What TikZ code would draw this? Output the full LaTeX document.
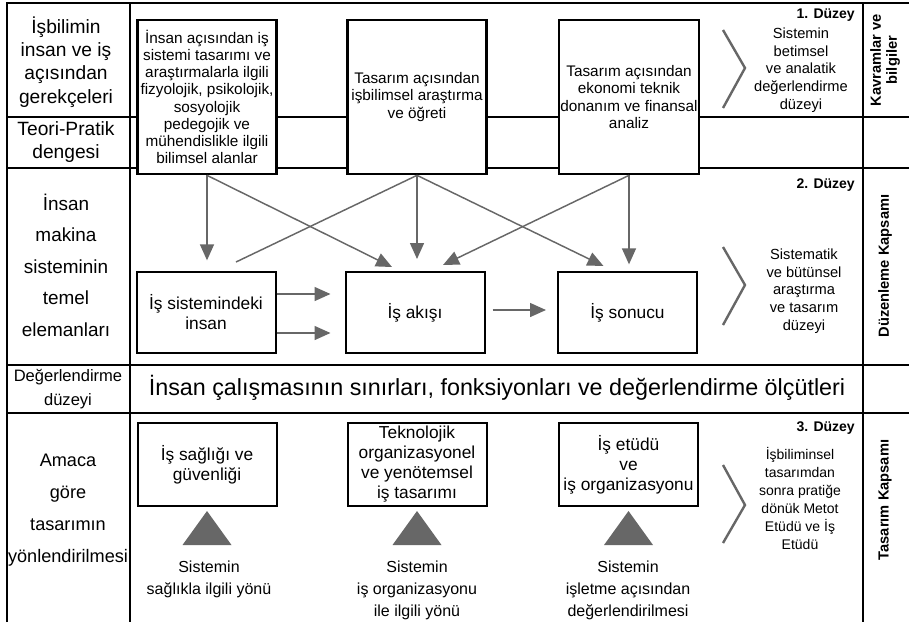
\documentclass[tikz,border=0pt]{standalone}
\usepackage{fontspec}
\setmainfont{Liberation Sans}
\usetikzlibrary{arrows.meta,calc}
\definecolor{flowgray}{HTML}{676767}
\tikzstyle{rule}=[line width=1.2pt]
\tikzstyle{frame}=[line width=2.2pt]
\tikzstyle{topbox}=[draw,line width=2pt,fill=white,minimum width=104.25pt,minimum height=115.5pt,align=center,inner sep=1pt,font=\fontsize{11.5}{12.9}\selectfont]
\tikzstyle{midbox}=[draw,line width=1.5pt,fill=white,minimum width=104.25pt,minimum height=60.75pt,align=center,inner sep=1pt,font=\fontsize{13}{15}\selectfont]
\tikzstyle{lowbox}=[midbox,minimum height=62.25pt]
\tikzstyle{flow}=[draw=flowgray,line width=1.1pt,-{Triangle[length=12pt,width=10.5pt]}]
\tikzstyle{link}=[draw=flowgray,line width=1.1pt]
\tikzstyle{chev}=[draw=flowgray,line width=1.8pt]
\tikzstyle{tri}=[fill=flowgray]
\tikzstyle{leftcol}=[align=center,inner sep=0pt,font=\fontsize{14.4}{17.5}\selectfont]
\tikzstyle{note}=[align=center,inner sep=0pt,font=\fontsize{11}{13.3}\selectfont]
\tikzstyle{lvl}=[anchor=east,inner sep=0pt,font=\fontsize{10.5}{12}\selectfont\bfseries]
\tikzstyle{side}=[rotate=90,align=center,inner sep=0pt,font=\fontsize{11}{12}\selectfont\bfseries]
\tikzstyle{aspect}=[align=center,inner sep=0pt,font=\fontsize{12}{16.5}\selectfont]

\begin{document}
\begin{tikzpicture}[x=0.75pt,y=-0.75pt]
  \useasboundingbox (0,0) rectangle (909,622);
  \draw[rule] (7,117) -- (909,117);
  \draw[rule] (7,168) -- (909,168);
  \draw[rule] (7,365) -- (909,365);
  \draw[rule] (7,413) -- (909,413);
  \draw[rule] (130,3) -- (130,622);
  \draw[rule] (863,3) -- (863,622);
  \draw[frame] (7,622) -- (7,3) -- (909,3);

  \node[leftcol] (why) at (66,62) {İşbilimin\\insan ve iş\\açısından\\gerekçeleri};
  \node[leftcol] (balance) at (66,142) {Teori-Pratik\\dengesi};
  \node[leftcol,font=\fontsize{14.2}{23.6}\selectfont] (elements) at (66,265) {İnsan\\makina\\sisteminin\\temel\\elemanları};
  \node[leftcol,font=\fontsize{12.4}{18}\selectfont] (evallvl) at (68,389) {Değerlendirme\\düzeyi};
  \node[leftcol,font=\fontsize{13.6}{24}\selectfont] (aim) at (68,510) {Amaca\\göre\\tasarımın\\yönlendirilmesi};

  \node[topbox] (b1) at (207,97) {İnsan açısından iş\\sistemi tasarımı ve\\araştırmalarla ilgili\\fizyolojik, psikolojik,\\sosyolojik\\pedegojik ve\\mühendislikle ilgili\\bilimsel alanlar};
  \node[topbox] (b2) at (417,97) {Tasarım açısından\\işbilimsel araştırma\\ve öğreti};
  \node[topbox] (b3) at (629,97) {Tasarım açısından\\ekonomi teknik\\donanım ve finansal\\analiz};

  \node[midbox] (m1) at (206,312.5) {İş sistemindeki\\insan};
  \node[midbox] (m2) at (415,312.5) {İş akışı};
  \node[midbox] (m3) at (627.5,312.5) {İş sonucu};

  \draw[flow,shorten >=8pt] (b1.south) -- (b1.south |- m1.north);
  \draw[flow] (b1.south) -- ($(m2.north)+(-23,-4)$);
  \draw[link] (b2.south) -- ($(m1.north)+(30,-9)$);
  \draw[flow,shorten >=9pt] (b2.south) -- (b2.south |- m2.north);
  \draw[flow] (b2.south) -- ($(m3.north)+(-24,-5)$);
  \draw[flow] (b3.south) -- ($(m2.north)+(28,-6)$);
  \draw[flow,shorten >=5pt] (b3.south) -- (b3.south |- m3.north);
  \draw[flow] ($(m1.east)+(0,-18.5)$) -- ($(m2.west)+(-14,-18.5)$);
  \draw[flow] ($(m1.east)+(0,20.5)$) -- ($(m2.west)+(-14,20.5)$);
  \draw[flow] ($(m2.east)+(7,-2.5)$) -- ($(m3.west)+(-11,-2.5)$);

  \node[font=\fontsize{17.5}{20}\selectfont,inner sep=0pt] (limits) at (497,388) {İnsan çalışmasının sınırları, fonksiyonları ve değerlendirme ölçütleri};

  \node[lowbox] (u1) at (207,464.5) {İş sağlığı ve\\güvenliği};
  \node[lowbox] (u2) at (417,464.5) {Teknolojik\\organizasyonel\\ve yenötemsel\\iş tasarımı};
  \node[lowbox] (u3) at (628.5,464.5) {İş etüdü\\ve\\iş organizasyonu};

  \fill[tri] ($(u1.south)+(-24.5,38)$) -- ++(49,0) -- ++(-24.5,-34) -- cycle;
  \fill[tri] ($(u2.south)+(-24.5,38)$) -- ++(49,0) -- ++(-24.5,-34) -- cycle;
  \fill[tri] ($(u3.south)+(-24.5,38)$) -- ++(49,0) -- ++(-24.5,-34) -- cycle;

  \node[aspect] (a1) at (209,579) {Sistemin\\sağlıkla ilgili yönü};
  \node[aspect] (a2) at (417,590) {Sistemin\\iş organizasyonu\\ile ilgili yönü};
  \node[aspect] (a3) at (628,590) {Sistemin\\işletme açısından\\değerlendirilmesi};

  \draw[chev] (723,30) -- (745,68) -- (723,108);
  \draw[chev] (723,247) -- (745,285) -- (723,325);
  \draw[chev] (723,465) -- (745,505) -- (723,543);

  \node[lvl] (lvl1) at (855,15) {1. Düzey};
  \node[lvl] (lvl2) at (855,185) {2. Düzey};
  \node[lvl] (lvl3) at (855,428) {3. Düzey};
  \node[note] (n1) at (801,70) {Sistemin\\betimsel\\ve analatik\\değerlendirme\\düzeyi};
  \node[note] (n2) at (804,291) {Sistematik\\ve bütünsel\\araştırma\\ve tasarım\\düzeyi};
  \node[note,font=\fontsize{10.5}{13.5}\selectfont] (n3) at (800,498) {İşbiliminsel\\tasarımdan\\sonra pratiğe\\dönük Metot\\Etüdü ve İş\\Etüdü};

  \node[side] (s1) at (885,60) {Kavramlar ve\\bilgiler};
  \node[side] (s2) at (885,266) {Düzenleme Kapsamı};
  \node[side] (s3) at (885,500) {Tasarım Kapsamı};
\end{tikzpicture}
\end{document}
